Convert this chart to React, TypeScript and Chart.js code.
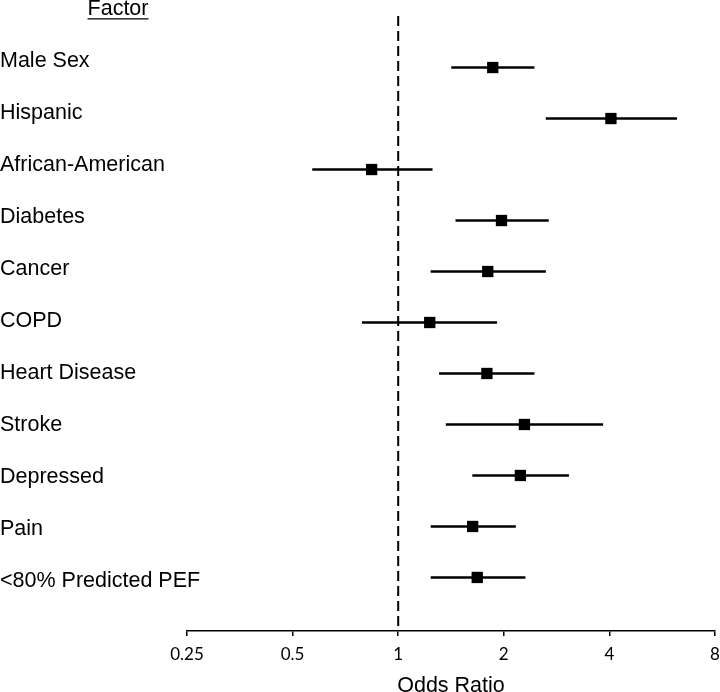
import { useEffect, useRef } from "react";
import { Chart, registerables } from "chart.js";

Chart.register(...registerables);

const headerText = "Factor";
const factors = [
  "Male Sex",
  "Hispanic",
  "African-American",
  "Diabetes",
  "Cancer",
  "COPD",
  "Heart Disease",
  "Stroke",
  "Depressed",
  "Pain",
  "<80% Predicted PEF",
];
const oddsRatio = [1.86, 4.04, 0.84, 1.97, 1.8, 1.23, 1.79, 2.29, 2.23, 1.63, 1.68];
const ciLower = [1.42, 2.64, 0.57, 1.46, 1.24, 0.79, 1.31, 1.37, 1.63, 1.24, 1.24];
const ciUpper = [2.44, 6.22, 1.25, 2.68, 2.63, 1.91, 2.44, 3.83, 3.06, 2.16, 2.3];
const xTicks = [0.25, 0.5, 1, 2, 4, 8];
const referenceValue = 1;
const xTitle = "Odds Ratio";

const LABEL_FONT = "'Liberation Sans', Arial, sans-serif";
const TICK_FONT = "Lato, 'Open Sans', sans-serif";

const headerPlugin = {
  id: "factorHeader",
  afterDraw(chart: any) {
    const { ctx, chartArea } = chart;
    const yl = chart.scales.yl;
    const cx = chartArea.left - 69;
    const cy = yl.getPixelForValue(0);
    ctx.save();
    ctx.font = `21.5px ${LABEL_FONT}`;
    ctx.fillStyle = "#000";
    ctx.textAlign = "center";
    ctx.textBaseline = "middle";
    ctx.fillText(headerText, cx, cy);
    const w = ctx.measureText(headerText).width;
    ctx.strokeStyle = "#000";
    ctx.lineWidth = 1.3;
    ctx.beginPath();
    ctx.moveTo(cx - w / 2, cy + 10);
    ctx.lineTo(cx + w / 2, cy + 10);
    ctx.stroke();
    ctx.restore();
  },
};

export default function App() {
  const ref = useRef<HTMLCanvasElement | null>(null);

  useEffect(() => {
    if (!ref.current) return;
    const rows = factors.map((_, i) => i + 1);
    const chart = new Chart(ref.current, {
      type: "scatter",
      data: {
        datasets: [
          {
            type: "scatter",
            label: "Odds ratio",
            data: rows.map((r, i) => ({ x: oddsRatio[i], y: r })),
            pointStyle: "rect",
            pointRadius: 8,
            pointHoverRadius: 8,
            backgroundColor: "#000",
            borderWidth: 0,
            xAxisID: "x",
            yAxisID: "y",
            order: 0,
          } as any,
          {
            type: "bar",
            label: "95% CI",
            indexAxis: "y",
            data: rows.map((r, i) => ({ x: [ciLower[i], ciUpper[i]], y: r })),
            backgroundColor: "#000",
            borderWidth: 0,
            barThickness: 2,
            xAxisID: "x",
            yAxisID: "y",
            order: 1,
          } as any,
          {
            type: "line",
            label: "Reference",
            data: [
              { x: referenceValue, y: -0.01 },
              { x: referenceValue, y: 12.05 },
            ],
            borderColor: "#000",
            borderWidth: 2,
            borderDash: [10, 5],
            pointRadius: 0,
            fill: false,
            xAxisID: "x",
            yAxisID: "y",
            order: 2,
          } as any,
        ],
      },
      options: {
        animation: false,
        responsive: false,
        devicePixelRatio: 1,
        layout: { autoPadding: false, padding: { top: 14, left: 0, right: 0, bottom: 0 } },
        plugins: {
          legend: { display: false },
          tooltip: { enabled: false },
        },
        scales: {
          x: {
            type: "logarithmic",
            position: "bottom",
            min: 0.25,
            max: 8,
            offset: false,
            afterBuildTicks: (s: any) => {
              s.ticks = xTicks.map((v) => ({ value: v }));
            },
            afterFit: (s: any) => {
              s.height = 61;
              s.paddingRight = 5;
            },
            ticks: {
              callback: (v: any) => String(v),
              font: { family: TICK_FONT, size: 17, lineHeight: 2.12 },
              color: "#000",
              padding: 0,
              autoSkip: false,
              maxRotation: 0,
            },
            grid: {
              display: true,
              drawOnChartArea: false,
              drawTicks: true,
              tickLength: 5,
              color: "#000",
              lineWidth: 1.5,
              offset: false,
            },
            border: { display: true, color: "#000", width: 1.5 },
            title: {
              display: true,
              text: xTitle,
              color: "#000",
              font: { family: LABEL_FONT, size: 21.5, lineHeight: 1 },
              padding: { top: 0, bottom: -5 },
            },
          },
          y: {
            type: "linear",
            display: false,
            reverse: true,
            offset: false,
            grid: { offset: false },
            min: -0.05,
            max: 12.05,
          },
          yl: {
            type: "linear",
            position: "left",
            reverse: true,
            offset: false,
            min: 0.1,
            max: 11.96,
            afterBuildTicks: (s: any) => {
              s.ticks = factors.map((_, i) => ({ value: i + 1 }));
            },
            afterFit: (s: any) => {
              s.width = 187;
            },
            ticks: {
              callback: (v: any) => factors[Number(v) - 1] ?? "",
              mirror: true,
              padding: -187,
              autoSkip: false,
              font: { family: LABEL_FONT, size: 21.5, lineHeight: 1 },
              color: "#000",
            },
            grid: { display: false, drawTicks: false, tickLength: 0 },
            border: { display: false },
          },
        } as any,
      },
      plugins: [headerPlugin],
    });
    return () => chart.destroy();
  }, []);

  return (
    <div style={{ position: "absolute", left: 0, top: 0, width: 720, height: 692, background: "#fff" }}>
      <canvas ref={ref} width={720} height={692} />
    </div>
  );
}
